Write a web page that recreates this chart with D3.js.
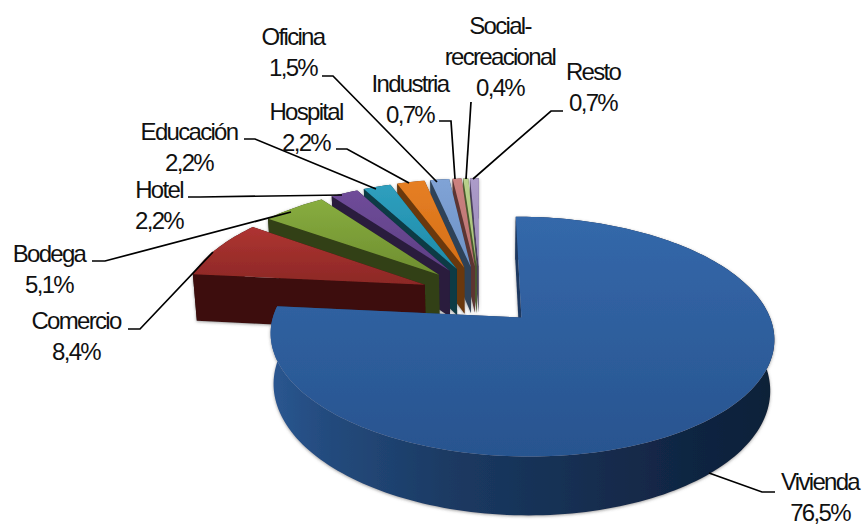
<!DOCTYPE html>
<html>
<head>
<meta charset="utf-8">
<script src="https://cdn.jsdelivr.net/npm/d3@7"></script>
<style>
  html, body { margin: 0; padding: 0; background: #fff; }
  svg { display: block; }
  text { font-family: "Liberation Sans", sans-serif; font-size: 24px; letter-spacing: -1.7px; fill: #111; text-anchor: middle; }
</style>
</head>
<body>
<svg id="canvas" width="864" height="525"></svg>
<script>
const categories = ["Vivienda", "Comercio", "Bodega", "Hotel", "Educación", "Hospital", "Oficina", "Industria", "Social-|recreacional", "Resto"];
const shares = [76.5, 8.4, 5.1, 2.2, 2.2, 2.2, 1.5, 0.7, 0.4, 0.7];

// top face gradient (far edge, near edge) and dark colour for the cut faces
const topFar = ["#3468AA", "#AE3431", "#88AD3F", "#6F4C99", "#2F9FBE", "#E67F24", "#80A3D6", "#CC8280", "#B9D18C", "#AC9CC9"];
const topNear = ["#28548F", "#8C2826", "#6E8E30", "#5E3F85", "#1E8BA8", "#D56F17", "#6E92C5", "#B87170", "#A6C078", "#9A89B8"];
const sideColor = ["#1A3860", "#3C0D0C", "#323F14", "#2A1C3E", "#0C3A44", "#6A3908", "#2E4258", "#5C3432", "#4A5A2E", "#4A3F5C"];

// where each label block is centred, its first baseline, and its leader line
const labelX = [820, 76, 49, 159, 189, 306, 293, 410, 500, 593];
const labelY = [490, 329, 262, 198, 140, 120, 45, 92, 34, 80];
const leaders = [
  [[775, 492], [762, 492], [709, 473]],
  [[128, 329], [140, 329], [213, 252]],
  [[92, 261], [105, 261], [291, 212]],
  [[188, 197], [200, 197], [342, 195]],
  [[244, 139], [255, 139], [376, 189]],
  [[336, 149], [347, 149], [409, 183]],
  [[322, 76], [333, 76], [437, 182]],
  [[439, 121], [451, 121], [455, 179]],
  [[471, 102], [466, 179]],
  [[563, 111], [551, 111], [473, 179]]
];

const svg = d3.select("#canvas");
const lineHeight = 31;

// camera: pie plane seen in perspective, radius 1 in world units
const centerX = 480, groundY = 295, horizonY = -421;
const radiusPx = 241, depthPx = 48, perspective = 0.1535, taper = 0.986;
const explodeX = 0.2483, explodeZ = 0.269;

function project(x, z, lower) {
  const ratio = 1 / (1 + perspective * z);
  const k = lower ? taper : 1;
  return [
    centerX + x * radiusPx * ratio * k,
    horizonY + (groundY - horizonY + (lower ? depthPx : 0)) * ratio
  ];
}

// slices go clockwise from twelve o'clock, in the given order
const pie = d3.pie().sort(null).value(d => d);
const arcs = pie(shares);

const polygon = d3.line().curve(d3.curveLinearClosed);
const plain = d3.line();

const defs = svg.append("defs");

const shadow = defs.append("filter").attr("id", "soft")
  .attr("x", "-5%").attr("y", "-5%").attr("width", "110%").attr("height", "115%");
shadow.append("feDropShadow")
  .attr("dx", 0).attr("dy", 1).attr("stdDeviation", 1.6)
  .attr("flood-color", "#555").attr("flood-opacity", 0.55);

arcs.forEach((d, i) => {
  const g = defs.append("linearGradient").attr("id", "top" + i)
    .attr("x1", 0).attr("y1", 0).attr("x2", 0).attr("y2", 1);
  g.append("stop").attr("offset", "0%").attr("stop-color", topFar[i]);
  g.append("stop").attr("offset", "100%").attr("stop-color", topNear[i]);
});

// outer wall of the big slice darkens from left to right
const wall = defs.append("linearGradient").attr("id", "wall")
  .attr("gradientUnits", "userSpaceOnUse")
  .attr("x1", 272).attr("y1", 0).attr("x2", 775).attr("y2", 0);
[["0%", "#2A5690"], ["12%", "#234A7C"], ["35%", "#1B3A63"], ["60%", "#162F52"], ["80%", "#112644"], ["100%", "#0F2038"]]
  .forEach(s => wall.append("stop").attr("offset", s[0]).attr("stop-color", s[1]));

const pieLayer = svg.append("g").attr("filter", "url(#soft)");

// back slices first so the nearer ones paint over them
d3.range(arcs.length - 1, 0, -1).concat([0]).forEach(i => {
  const d = arcs[i];
  const mid = (d.startAngle + d.endAngle) / 2;
  const ox = explodeX * Math.sin(mid), oz = explodeZ * Math.cos(mid);
  const steps = Math.max(4, Math.ceil((d.endAngle - d.startAngle) * 40));
  const angles = d3.range(steps + 1).map(k => d.startAngle + (d.endAngle - d.startAngle) * k / steps);

  const rim = lower => angles.map(a => project(ox + Math.sin(a), oz + Math.cos(a), lower));
  const apex = lower => project(ox, oz, lower);
  const g = pieLayer.append("g");

  const upperRim = rim(false), lowerRim = rim(true);
  g.append("path")
    .attr("d", polygon(upperRim.concat(lowerRim.slice().reverse())))
    .attr("fill", i === 0 ? "url(#wall)" : sideColor[i]);
  // end cut, then start cut
  g.append("path")
    .attr("d", polygon([apex(false), upperRim[steps], lowerRim[steps], apex(true)]))
    .attr("fill", sideColor[i]);
  g.append("path")
    .attr("d", polygon([apex(false), upperRim[0], lowerRim[0], apex(true)]))
    .attr("fill", sideColor[i]);
  g.append("path")
    .attr("d", polygon([apex(false)].concat(upperRim)))
    .attr("fill", "url(#top" + i + ")");
});

// leaders
svg.selectAll("path.leader")
  .data(leaders)
  .join("path")
  .attr("class", "leader")
  .attr("d", d => plain(d))
  .attr("fill", "none")
  .attr("stroke", "#000")
  .attr("stroke-width", 1.7);

// labels: name on one or two lines, then the share
const labels = svg.selectAll("text")
  .data(categories)
  .join("text")
  .attr("x", (d, i) => labelX[i])
  .attr("y", (d, i) => labelY[i]);

labels.each(function (d, i) {
  const lines = d.split("|").concat(shares[i].toFixed(1).replace(".", ",") + "%");
  d3.select(this).selectAll("tspan")
    .data(lines)
    .join("tspan")
    .attr("x", labelX[i])
    .attr("dy", (l, k) => k === 0 ? 0 : lineHeight)
    .text(l => l);
});
</script>
</body>
</html>
